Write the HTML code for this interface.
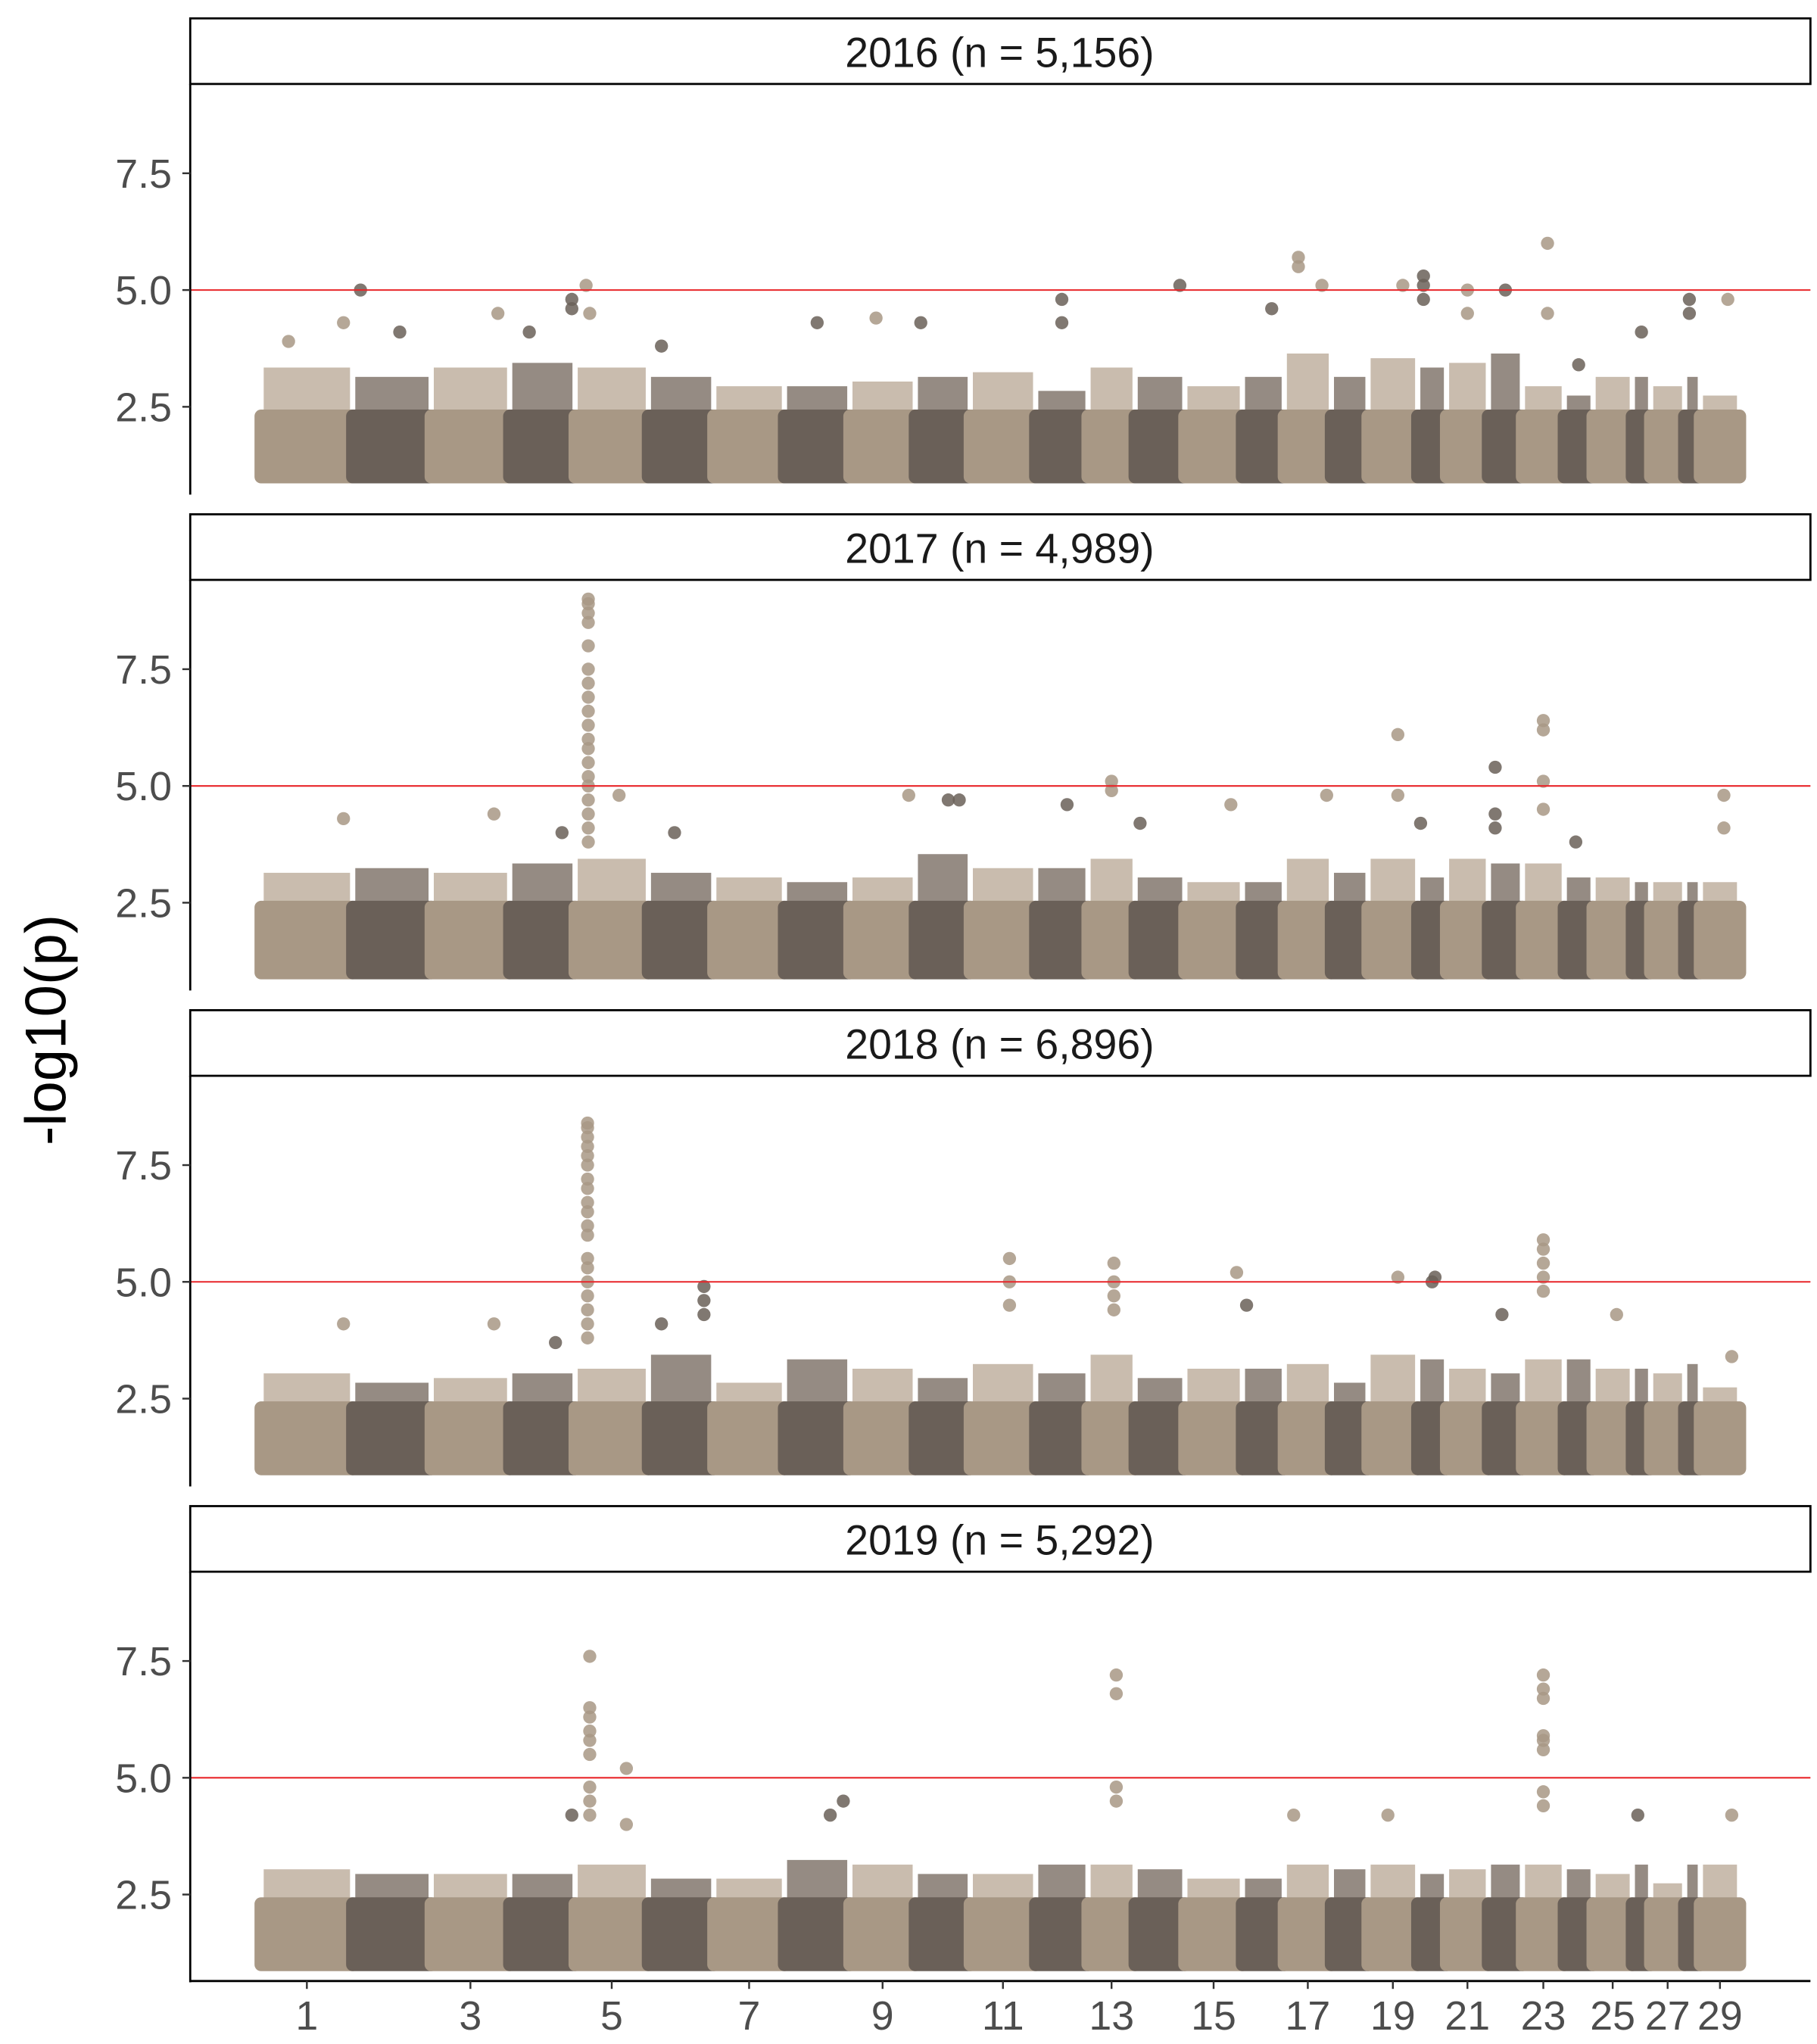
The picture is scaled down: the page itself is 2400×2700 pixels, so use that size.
<!DOCTYPE html>
<html><head><meta charset="utf-8"><style>
html,body{margin:0;padding:0;background:#fff}
svg{display:block}
text{font-family:"Liberation Sans",Arial,sans-serif}
</style></head><body>
<svg id="chart" width="2400" height="2700" viewBox="0 0 1385 1558" preserveAspectRatio="none" xmlns="http://www.w3.org/2000/svg"></svg>
<script>
const chromLengths=[70,60,60,50,56,50,54,50,50,42,50,40,36,38,44,32,36,28,38,22,32,26,32,22,30,14,26,12,30];
const panelTitles=["2016 (n = 5,156)","2017 (n = 4,989)","2018 (n = 6,896)","2019 (n = 5,292)"];
const yTicks=[2.5,5.0,7.5];
const yTickLabels=["2.5","5.0","7.5"];
const xTickChroms=[1,3,5,7,9,11,13,15,17,19,21,23,25,27,29];
const threshold=5.0;
const bulkTop=[2.3,2.4,2.3,2.3];
const upper2016=[3.2,3.0,3.2,3.3,3.2,3.0,2.8,2.8,2.9,3.0,3.1,2.7,3.2,3.0,2.8,3.0,3.5,3.0,3.4,3.2,3.3,3.5,2.8,2.6,3.0,3.0,2.8,3.0,2.6];
const upper2017=[3.0,3.1,3.0,3.2,3.3,3.0,2.9,2.8,2.9,3.4,3.1,3.1,3.3,2.9,2.8,2.8,3.3,3.0,3.3,2.9,3.3,3.2,3.2,2.9,2.9,2.8,2.8,2.8,2.8];
const upper2018=[2.9,2.7,2.8,2.9,3.0,3.3,2.7,3.2,3.0,2.8,3.1,2.9,3.3,2.8,3.0,3.0,3.1,2.7,3.3,3.2,3.0,2.9,3.2,3.2,3.0,3.0,2.9,3.1,2.6];
const upper2019=[2.9,2.8,2.8,2.8,3.0,2.7,2.7,3.1,3.0,2.8,2.8,3.0,3.0,2.9,2.7,2.7,3.0,2.9,3.0,2.8,2.9,3.0,3.0,2.9,2.8,3.0,2.6,3.0,3.0];
const upperVals=[upper2016,upper2017,upper2018,upper2019];
const peaks2016=[[1,0.9,4.3],[1,0.3,3.9],[2,0.1,5.0],[2,0.6,4.1],[3,0.85,4.5],[4,0.3,4.1],[4,0.95,4.8],[4,0.95,4.6],[5,0.15,5.1],[5,0.2,4.5],[6,0.2,3.8],[8,0.5,4.3],[9,0.4,4.4],[10,0.1,4.3],[12,0.5,4.8],[12,0.5,4.3],[14,0.9,5.1],[16,0.7,4.6],[17,0.3,5.7],[17,0.3,5.5],[17,0.8,5.1],[19,0.7,5.1],[20,0.2,5.3],[20,0.2,5.1],[20,0.2,4.8],[21,0.5,5.0],[21,0.5,4.5],[22,0.5,5.0],[23,0.6,6.0],[23,0.6,4.5],[24,0.5,3.4],[26,0.5,4.1],[28,0.3,4.8],[28,0.3,4.5],[29,0.7,4.8]];
const peaks2017=[[5,0.18,9.0],[5,0.18,8.9],[5,0.18,8.7],[5,0.18,8.5],[5,0.18,8.0],[5,0.18,7.5],[5,0.18,7.2],[5,0.18,6.9],[5,0.18,6.6],[5,0.18,6.3],[5,0.18,6.0],[5,0.18,5.8],[5,0.18,5.5],[5,0.18,5.2],[5,0.18,5.0],[5,0.18,4.7],[5,0.18,4.4],[5,0.18,4.1],[5,0.18,3.8],[1,0.9,4.3],[3,0.8,4.4],[4,0.8,4.0],[5,0.6,4.8],[6,0.4,4.0],[9,0.9,4.8],[10,0.6,4.7],[10,0.8,4.7],[12,0.6,4.6],[13,0.5,5.1],[13,0.5,4.9],[14,0.1,4.2],[15,0.8,4.6],[17,0.9,4.8],[19,0.6,6.1],[19,0.6,4.8],[20,0.1,4.2],[22,0.2,5.4],[22,0.2,4.4],[22,0.2,4.1],[23,0.5,6.4],[23,0.5,6.2],[23,0.5,5.1],[23,0.5,4.5],[24,0.4,3.8],[29,0.6,4.8],[29,0.6,4.1]];
const peaks2018=[[5,0.17,8.4],[5,0.17,8.3],[5,0.17,8.1],[5,0.17,7.9],[5,0.17,7.7],[5,0.17,7.5],[5,0.17,7.2],[5,0.17,7.0],[5,0.17,6.7],[5,0.17,6.5],[5,0.17,6.2],[5,0.17,6.0],[5,0.17,5.5],[5,0.17,5.3],[5,0.17,5.0],[5,0.17,4.7],[5,0.17,4.4],[5,0.17,4.1],[5,0.17,3.8],[1,0.9,4.1],[3,0.8,4.1],[4,0.7,3.7],[6,0.2,4.1],[6,0.85,4.9],[6,0.85,4.6],[6,0.85,4.3],[11,0.6,5.5],[11,0.6,5.0],[11,0.6,4.5],[13,0.55,5.4],[13,0.55,5.0],[13,0.55,4.7],[13,0.55,4.4],[15,0.9,5.2],[16,0.1,4.5],[19,0.6,5.1],[20,0.5,5.0],[20,0.6,5.1],[22,0.4,4.3],[23,0.5,5.9],[23,0.5,5.7],[23,0.5,5.4],[23,0.5,5.1],[23,0.5,4.8],[25,0.6,4.3],[29,0.8,3.4]];
const peaks2019=[[5,0.2,7.6],[5,0.2,6.5],[5,0.2,6.3],[5,0.2,6.0],[5,0.2,5.8],[5,0.2,5.5],[5,0.2,4.8],[5,0.2,4.5],[5,0.2,4.2],[5,0.7,5.2],[5,0.7,4.0],[13,0.6,7.2],[13,0.6,6.8],[13,0.6,4.8],[13,0.6,4.5],[23,0.5,7.2],[23,0.5,6.9],[23,0.5,6.7],[23,0.5,5.9],[23,0.5,5.8],[23,0.5,5.6],[23,0.5,4.7],[23,0.5,4.4],[8,0.9,4.5],[8,0.7,4.2],[4,0.95,4.2],[29,0.8,4.2],[26,0.3,4.2],[17,0.2,4.2],[19,0.4,4.2]];
const peakSets=[peaks2016,peaks2017,peaks2018,peaks2019];

const NS="http://www.w3.org/2000/svg";
const svg=document.getElementById('chart');
function mk(tag,attrs,parent){const e=document.createElementNS(NS,tag);for(const k in attrs)e.setAttribute(k,attrs[k]);(parent||svg).appendChild(e);return e;}
const X0=199, X1=1326;
const totalLen=chromLengths.reduce((a,b)=>a+b,0);
const starts=[];let acc=0;for(const L of chromLengths){starts.push(acc);acc+=L;}
function xPos(chr,frac){return X0+(starts[chr-1]+chromLengths[chr-1]*frac)/totalLen*(X1-X0);}
const LIGHT="#a89885", DARK="#6a6058";
const SPREAD_L="#c9bcae", SPREAD_D="#958b83";
const R=5;

panelTitles.forEach((title,p)=>{
  const stripTop=14+378*p, plotTop=stripTop+50, plotBottom=plotTop+313;
  const y=v=>plotBottom-(v-0.62)*35.6;
  const g=mk('g',{});
  
  
  const sr=mk('rect',{x:145,y:stripTop,width:1235,height:50,fill:'#fff',stroke:'#000','stroke-width':1.6},g);
  
  
  const st=mk('text',{x:762,y:stripTop+37,'text-anchor':'middle','font-size':32,fill:'#1a1a1a'},g);
  st.textContent=title;
  
  
  chromLengths.forEach((L,i)=>{
    const light=i%2===0;
    const xa=xPos(i+1,0), xb=xPos(i+1,1);
    const up=upperVals[p][i];
    const u=mk('rect',{x:xa+2,y:y(up)-R,width:xb-xa-4,height:y(bulkTop[p])-y(up)+R,fill:light?SPREAD_L:SPREAD_D},g);
    
    
  });
  chromLengths.forEach((L,i)=>{
    const c=i%2===0?LIGHT:DARK;
    const xa=xPos(i+1,0), xb=xPos(i+1,1);
    const b=mk('rect',{x:xa-R,y:y(bulkTop[p])-R,width:xb-xa+2*R,height:y(1.0)-y(bulkTop[p])+2*R,fill:c,rx:R},g);
    
    
  });
  peakSets[p].forEach(pk=>{
    const c=(pk[0]-1)%2===0?LIGHT:DARK;
    const cc=mk('circle',{cx:xPos(pk[0],pk[1]),cy:y(pk[2]),r:R,fill:c,opacity:0.85},g);
    
    
  });
  const th=mk('line',{x1:145,x2:1380,y1:y(threshold),y2:y(threshold),stroke:'#e8262a','stroke-width':1.2},g);
  
  
  const ax=mk('line',{x1:145,x2:145,y1:plotTop,y2:plotBottom,stroke:'#000','stroke-width':1.6},g);
  
  
  yTicks.forEach((t,k)=>{
    mk('line',{x1:139,x2:145,y1:y(t),y2:y(t),stroke:'#333','stroke-width':1.4},g);
    const tl=mk('text',{x:131,y:y(t)+11,'text-anchor':'end','font-size':31,fill:'#4d4d4d'},g);
    tl.textContent=yTickLabels[k];
    
    
  });
});
const xa=mk('line',{x1:145,x2:1380,y1:1510,y2:1510,stroke:'#000','stroke-width':1.6});


const tickPos=[235,360,468,573,675,767,850,928,1000,1065,1122,1180,1233,1275,1313];
xTickChroms.forEach((c,k)=>{
  const x=xPos(c,0.5);
  mk('line',{x1:x,x2:x,y1:1510,y2:1516,stroke:'#333','stroke-width':1.4});
  const t=mk('text',{x:x,y:1547,'text-anchor':'middle','font-size':31,fill:'#4d4d4d'});
  t.textContent=String(c);
  
  
});
const yl=mk('text',{x:0,y:0,'text-anchor':'middle','font-size':44,fill:'#000',transform:'translate(50,785) rotate(-90)'});
yl.textContent='-log10(p)';


</script>
</body></html>
